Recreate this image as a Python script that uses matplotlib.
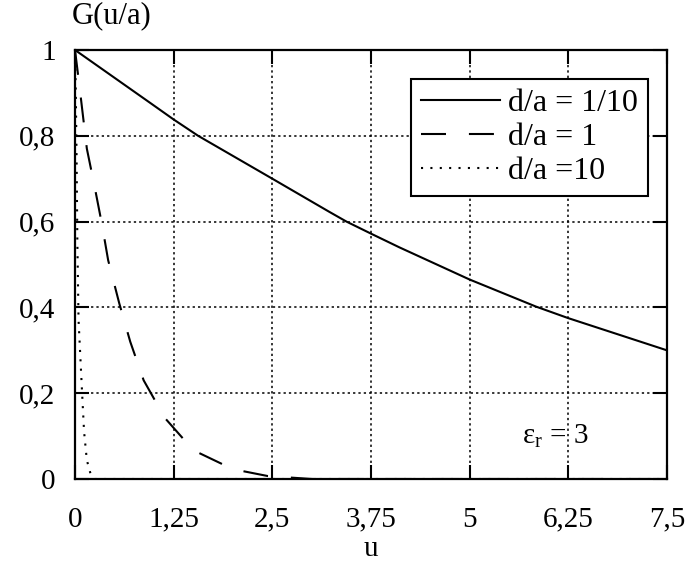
import matplotlib
matplotlib.use("Agg")
from matplotlib import pyplot as plt

# G(u/a) for three d/a ratios, eps_r = 3
u_thin = [0, 0.95, 1.25, 1.56, 2.5, 3.22, 3.44, 3.75, 4.11, 5, 5.84, 6.25, 7.5]
g_thin = [1, 0.877, 0.838, 0.80, 0.700, 0.623, 0.600, 0.572, 0.540, 0.465, 0.402, 0.375, 0.30]

u_mid = [0, 0.06, 0.15, 0.25, 0.34, 0.42, 0.56, 0.7, 0.87, 1.14, 1.5, 2.0, 2.44, 3.0, 7.5]
g_mid = [1, 0.91, 0.77, 0.68, 0.595, 0.51, 0.41, 0.32, 0.23, 0.142, 0.067, 0.023, 0.007, 0.0, 0.0]

u_thick = [0, 0.01, 0.02, 0.03, 0.045, 0.09, 0.115, 0.15, 0.2, 0.25, 7.5]
g_thick = [1, 0.9, 0.75, 0.55, 0.37, 0.2, 0.11, 0.044, 0.01, 0.0, 0.0]

x_ticks = [0, 1.25, 2.5, 3.75, 5, 6.25, 7.5]
x_labels = ["0", "1,25", "2,5", "3,75", "5", "6,25", "7,5"]
y_ticks = [0, 0.2, 0.4, 0.6, 0.8, 1]
y_labels = ["0", "0,2", "0,4", "0,6", "0,8", "1"]

plt.rcParams["font.family"] = ["Liberation Serif", "DejaVu Serif"]
plt.rcParams["mathtext.fontset"] = "custom"
plt.rcParams["mathtext.rm"] = "Liberation Serif"
plt.rcParams["font.size"] = 21

fig = plt.figure(figsize=(6.85, 5.66), dpi=100)
ax = fig.add_axes([0.1095, 0.1537, 0.864, 0.758])

ax.plot(u_thin, g_thin, color="black", lw=1.5, ls="-", label="d/a = 1/10")
ax.plot(u_mid, g_mid, color="black", lw=1.5, ls=(0, (12, 11)), label="d/a = 1")
ax.plot(u_thick, g_thick, color="black", lw=1.5, ls=(0, (1, 3.5)), label="d/a =10")

ax.set_xlim(0, 7.5)
ax.set_ylim(0, 1)
ax.set_xticks(x_ticks)
ax.set_xticklabels(x_labels)
ax.set_yticks(y_ticks)
ax.set_yticklabels(y_labels)
ax.tick_params(axis="x", pad=20)
ax.tick_params(axis="y", pad=14)
ax.tick_params(direction="in", length=10, width=1.5, top=True, right=True,
               labelsize=21)
ax.grid(True, color="black", ls=(0, (1.5, 2)), lw=1.1)
for s in ax.spines.values():
    s.set_linewidth(1.6)

ax.set_xlabel("u", fontsize=21, labelpad=2)
ax.text(-0.005, 1.045, "G(u/a)", transform=ax.transAxes, fontsize=22,
        ha="left", va="bottom")
ax.text(5.67, 0.1, "ε$_\\mathrm{r}$ = 3", fontsize=21, ha="left", va="center")

leg = ax.legend(loc="upper right", bbox_to_anchor=(0.968, 0.932),
                borderaxespad=0, fontsize=23, frameon=True, fancybox=False,
                handlelength=2.5, handletextpad=0.25, borderpad=0.3,
                labelspacing=0.15)
leg.get_frame().set_edgecolor("black")
leg.get_frame().set_linewidth(1.5)
leg.get_frame().set_alpha(1)

fig.savefig("out.png", dpi=100)
